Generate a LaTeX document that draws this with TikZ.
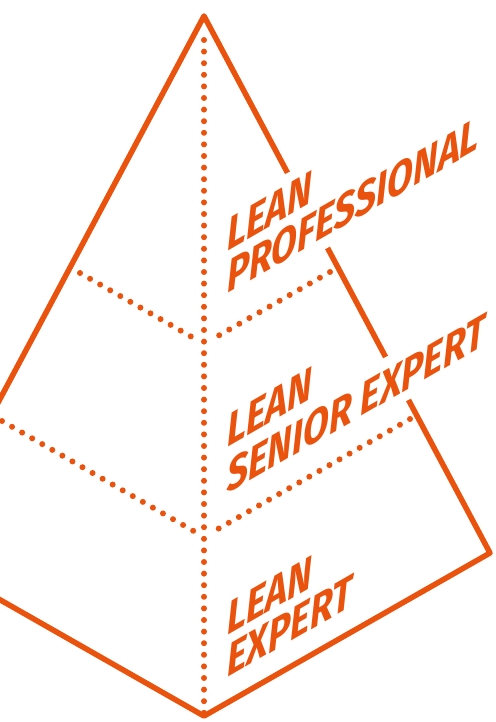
\documentclass[tikz,border=0pt]{standalone}
\usepackage{fontspec}
\setmainfont{Fira Sans}
\usetikzlibrary{calc}
\definecolor{lean}{RGB}{233,83,14}
\begin{document}
\begin{tikzpicture}[x=1pt,y=-1pt,
  edge/.style={draw=lean, line width=5.5pt, line join=round, line cap=butt},
  dots/.style={draw=lean, line width=6pt, line cap=round, dash pattern=on 0pt off 11.6pt},
  lbl/.style={text=lean, font=\fontsize{46}{46}\selectfont\bfseries\itshape, anchor=base west, inner sep=0pt, yslant=0.577, xscale=0.82}]
\useasboundingbox (0,0) rectangle (495,722);
\clip (0,0) rectangle (495,722);
% vertices
\coordinate (A) at (204,16);
\coordinate (B) at (204,716);
\coordinate (R) at (490,553);
\coordinate (L) at (-82,553);
\coordinate (J1) at (204,344);
\coordinate (J2) at (204,537);
\coordinate (VT) at (204,40);
\coordinate (VB) at (204,713);
% dotted lines
\draw[dots] (VT) -- (VB);
\draw[dots] (80,273) -- ($(J1)+(-8,-4.6)$);
\draw[dots] (330,272) -- ($(J1)+(9,-5.2)$);
\draw[dots] (2,421) -- ($(J2)+(-8,-4.6)$);
\draw[dots] (410,419) -- ($(J2)+(9,-5.2)$);
% outline
\draw[edge] ($(A)!0.715!(R)$) -- (R) -- (B) -- (L) -- (A) -- ($(A)!0.292!(R)$);
\draw[edge] ($(A)!0.432!(R)$) -- ($(A)!0.635!(R)$);
% labels
\node[lbl] (t1) at (227,252) {LEAN};
\node[lbl] (t2) at (227,294) {PROFESSIONAL};
\node[lbl] (t3) at (227,448) {LEAN};
\node[lbl] (t4) at (227,494) {SENIOR EXPERT};
\node[lbl] (t5) at (227,636) {LEAN};
\node[lbl] (t6) at (227,678) {EXPERT};
\end{tikzpicture}
\end{document}
